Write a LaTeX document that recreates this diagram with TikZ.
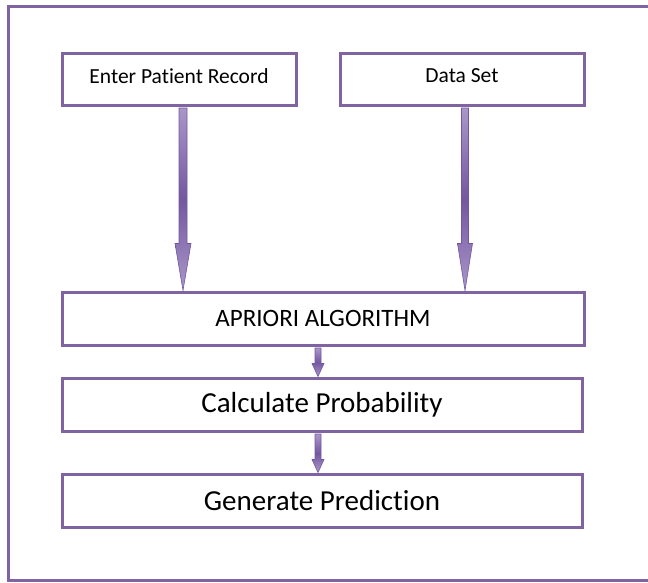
\documentclass[tikz,border=0pt]{standalone}
\usepackage{fontspec}
\setmainfont{Carlito}[Ligatures=NoCommon]
\definecolor{boxpurple}{HTML}{8064A2}
\definecolor{arrowlight}{HTML}{A997C8}
\definecolor{arrowdark}{HTML}{7457A0}
\newcommand{\fatarrow}[5]{% start, end, shaft half, head half, head length
  \path[arrowshape] ($(#1)+(-#3,0)$) -- ($(#2)+(-#3,-#5)$) -- ($(#2)+(-#4,-#5)$) -- (#2)
    -- ($(#2)+(#4,-#5)$) -- ($(#2)+(#3,-#5)$) -- ($(#1)+(#3,0)$) -- cycle;}
\usetikzlibrary{calc}
\tikzset{
  stepbox/.style={draw=boxpurple, line width=3pt, fill=white, inner sep=0pt, align=center},
  arrowshape/.style={draw=arrowdark, line width=0.6pt, top color=arrowlight, bottom color=arrowlight, middle color=arrowdark},
}
\begin{document}
\begin{tikzpicture}[x=1pt,y=-1pt]
\useasboundingbox (0,0) rectangle (648,582);
\begin{scope}
\clip (0,0) rectangle (648,582);
\draw[boxpurple, line width=3pt] (680,6) -- (8,6) -- (8,580) -- (680,580);
\end{scope}
\node[stepbox, minimum width=234pt, minimum height=52pt, font=\fontsize{21.5}{24}\selectfont] (ep) at (179,79) {\raisebox{6pt}{Enter Patient Record}};
\node[stepbox, minimum width=244pt, minimum height=52pt, font=\fontsize{21.5}{24}\selectfont] (ds) at (462,79) {\raisebox{6pt}{Data Set}};
\node[stepbox, minimum width=522pt, minimum height=53pt, font=\fontsize{25}{28}\selectfont] (ap) at (323,318.5) {APRIORI ALGORITHM};
\node[stepbox, minimum width=520pt, minimum height=53pt, font=\fontsize{29}{32}\selectfont] (cp) at (322,404.5) {Calculate Probability};
\node[stepbox, minimum width=520pt, minimum height=53pt, font=\fontsize{29}{32}\selectfont] (gp) at (322,500.5) {Generate Prediction};
\coordinate (a1s) at ($(ep.south)+(4,1.5)$);
\coordinate (a1e) at (a1s |- ap.north);
\coordinate (a2s) at ($(ds.south)+(3,1.5)$);
\coordinate (a2e) at (a2s |- ap.north);
\fatarrow{a1s}{a1e}{4}{8}{47}
\fatarrow{a2s}{a2e}{3.5}{7.5}{47}
\coordinate (a3s) at ($(ap.south)+(-5,1.5)$);
\coordinate (a3e) at (a3s |- cp.north);
\coordinate (a4s) at ($(cp.south)+(-4,1.5)$);
\coordinate (a4e) at (a4s |- gp.north);
\fatarrow{a3s}{a3e}{3}{6}{13}
\fatarrow{a4s}{a4e}{3}{6}{13}
\end{tikzpicture}
\end{document}
